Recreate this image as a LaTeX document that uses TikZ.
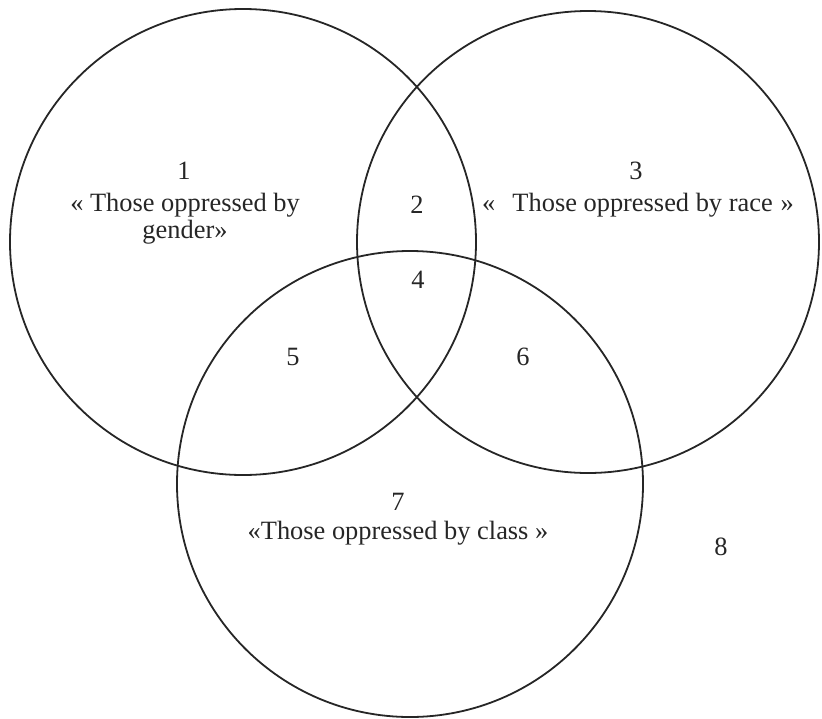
\documentclass[tikz,border=0pt]{standalone}
\usepackage{fontspec}
\setmainfont{Liberation Serif}
\begin{document}
\begin{tikzpicture}[x=1pt,y=-1pt,
  set/.style={draw=black!85,line width=1.8pt,circle,inner sep=0pt},
  lbl/.style={inner sep=0pt,text=black!85,font=\fontsize{26.4}{30}\selectfont}]
\useasboundingbox (0,0) rectangle (822,718);
\node[set,minimum size=466pt] (g) at (243,242) {};
\node[set,minimum size=462pt] (r) at (588,242) {};
\node[set,minimum size=466pt] (c) at (410,484) {};
\node[lbl] (n1) at (184,171) {1};
\node[lbl] (t1a) at (185,205) {« Those oppressed by};
\node[lbl] (t1b) at (185,232) {gender»};
\node[lbl] (n2) at (417,205) {2};
\node[lbl] (n3) at (636,171) {3};
\node[lbl] (t3) at (638,205) {«\hspace{0.65em}Those oppressed by race\hspace{0.3em}»};
\node[lbl] (n4) at (418,280) {4};
\node[lbl] (n5) at (293,357) {5};
\node[lbl] (n6) at (523,357) {6};
\node[lbl] (n7) at (398,502) {7};
\node[lbl] (t7) at (398,533) {«Those oppressed by class »};
\node[lbl] (n8) at (721,547) {8};
\end{tikzpicture}
\end{document}
